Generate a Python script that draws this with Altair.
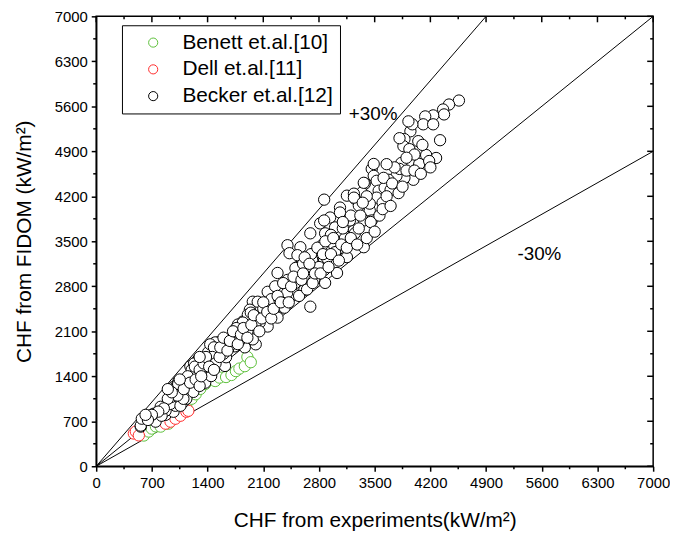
import altair as alt
import pandas as pd

# ---------------- data ----------------
benett_x = [560, 598, 660, 698, 750, 810, 909, 972, 1000, 1071, 1133, 1200, 1250, 1308, 1370, 1495,
            1550, 1632, 1700, 1756, 1800, 1868, 1900, 1943]
benett_y = [520, 478, 540, 586, 620, 617, 663, 740, 800, 848, 925, 1050, 1120, 1203, 1280, 1326,
            1380, 1388, 1420, 1480, 1520, 1557, 1700, 1619]

dell_x = [473, 498, 536, 872, 934, 996, 1059, 1133, 1158, 1320, 1682]
dell_y = [509, 540, 480, 663, 694, 740, 786, 848, 863, 1480, 1974]

becker_x = [4559, 4434, 4360, 4372, 4235, 4135, 4110, 4235, 4322, 4272, 4147, 4048, 3949, 3973, 3874,
            3861, 3936, 3936, 3836, 4060, 3986, 3874, 3774, 3674, 3463, 3488, 3525, 3550, 3625, 3376,
            3338, 3251, 3151, 3301, 3525, 3438, 4185, 3812, 3612, 3438, 3363, 3239, 3151, 3027, 2865,
            2691, 2616, 3488, 3363, 3239, 3064, 2940, 2815, 2691, 2566, 3924, 3812,
            2865, 2404, 3239, 3064, 3189, 3463, 3002, 2865, 2877, 3126, 3251, 3363, 2990, 2840, 2753,
            2902, 3002, 3151, 2715, 2653, 2865, 3027, 2529, 2504, 2715, 2877, 2379, 2566, 2155, 2429,
            2317, 1968, 1931, 2005, 1843, 2155, 2379, 1781, 1881, 1744, 2005, 1532, 1445, 1657, 2242,
            2367, 2441, 2279,
            2529, 2504, 2653, 2404, 2342, 2491, 2616, 2030, 2192, 2367, 1906, 2117, 2279, 1781, 2055,
            2691, 2740,
            1034, 1221, 1283, 1246, 1407, 1495, 1532, 1619, 1632, 1744, 1781, 1843, 1943, 1868, 1968,
            1407, 1158, 972,
            560, 598, 685, 810, 747, 872, 972, 996, 1059, 1009, 1096, 1133, 1221, 1221, 1183, 1258,
            1345, 1370, 1445, 1495, 1433,
            560, 573, 660, 722, 810, 872, 934, 947, 1009, 1034, 1059, 1096, 1121, 822,
            1000, 1020, 1030, 1200, 1230, 1210, 1240, 1480, 1460, 1500, 1760, 1770,
            1600, 1700, 1800, 1900, 2000, 2100, 2200, 2300, 2250, 2400, 2500, 2600, 2700, 2800, 2950,
            3100, 3200, 3300, 3400, 3600, 3700, 3750, 3900, 4000, 4100, 3650,
            1300, 1350, 1380, 1420, 1480, 1550, 1560, 1600, 1650, 1680, 1720, 1780, 1820, 1850, 1900,
            1950, 1980, 2050, 2080, 2100, 2150, 2200, 2230, 2280, 2320, 2350, 2420, 2450, 2480, 2550,
            2580, 2600, 2620, 2650, 2680, 2720, 2750, 2780, 2820, 2850, 2880, 2920, 2950, 2980, 3050,
            3080, 3100, 3150, 3200, 3280, 3320, 3350, 3400, 3450, 3500, 3560, 3600, 3650, 3700, 3720,
            3800, 3850, 3900, 4000, 4080, 4200, 1100, 1150, 1180, 1250, 1300, 900, 950, 850, 780, 700,
            650, 620, 900, 1050, 1300, 1320]
becker_y = [5690, 5628, 5551, 5474, 5459, 5443, 5320, 5320, 5073, 4796, 4842, 5058, 5212, 5320, 5089,
            4981, 4934, 4749, 4719, 4703, 4457, 4487, 4518, 4457, 4626, 4518, 4441, 4287, 4333, 4395,
            4256, 4163, 4210, 4055, 4179, 3978, 4749, 4626, 4487, 4086, 3824, 3670, 3516, 3362, 3207,
            3053, 2899, 4703, 4410, 4241, 4025, 3870, 3778, 3624, 3408, 5366, 5104,
            4148, 3439, 4179, 3948, 3824, 3824, 3716, 3824, 3624, 3547, 3624, 3408, 3439, 3439, 3331,
            3238, 3331, 3254, 3207, 3053, 3053, 3007, 3099, 2945, 2899, 2853, 2853, 2776, 2714, 3315,
            2467, 2560, 2436, 2328, 2251, 2174, 2513, 2020, 2020, 1866, 1897, 1927, 1789, 1820, 2359,
            2776, 2637, 3007,
            3284, 3084, 2945, 2899, 2714, 2668, 2745, 2560, 2513, 2467, 2359, 2359, 2313, 2205, 2236,
            2483, 2899,
            1326, 1588, 1665, 1480, 1773, 1927, 1619, 1560, 1696, 1927, 2081, 2236, 2390, 1850, 1974,
            1434, 1311, 1234,
            617, 709, 771, 786, 694, 800, 848, 941, 1126, 1249, 1000, 1049, 1157, 1465, 1557, 1619,
            1388, 1300, 1403, 1773, 1897,
            632, 740, 786, 817, 925, 863, 971, 1079, 1157, 1249, 941, 1049, 1311, 786,
            1200, 1100, 1280, 1500, 1600, 1400, 1550, 1850, 1700, 1600, 2150, 2050,
            1750, 1900, 1950, 2100, 2200, 2450, 2600, 2600, 2800, 2700, 2850, 3150, 3300, 3100, 3600,
            3700, 3900, 3700, 4200, 4100, 4300, 4650, 4600, 4850, 5000, 4700,
            1500, 1600, 1700, 1550, 1500, 1700, 1850, 2000, 1800, 1950, 2100, 1900, 2050, 2150, 2000,
            2200, 2350, 2100, 2300, 2550, 2400, 2300, 2450, 2650, 2550, 2850, 2550, 2800, 2950, 2650,
            2900, 3000, 3250, 2750, 3150, 2850, 3000, 3400, 3000, 3300, 3500, 3100, 3300, 3550, 3200,
            3450, 3800, 3400, 3550, 3450, 3900, 4100, 3550, 3800, 3650, 3900, 4000, 4200, 4050, 4400,
            4250, 4350, 4800, 4600, 4550, 4650, 1200, 1400, 1300, 1350, 1250, 1050, 1150, 900, 850, 800,
            720, 800, 1200, 1350, 1700, 1400]

series_names = ["Benett et.al.[10]", "Dell et.al.[11]", "Becker et.al.[12]"]
series_colors = ["#5cbf3a", "#ff2a2a", "#000000"]

ref_ratios = [1 / 0.7, 1.0, 0.7]
ref_labels = ["+30%", "-30%"]
ref_label_x = [3480, 5570]
ref_label_y = [5474, 3300]

major_ticks = list(range(0, 7001, 700))
minor_ticks = list(range(350, 7000, 700))
AX_MAX = 7000

# ---------------- tables ----------------
rows = []
for k, (name, xs, ys) in enumerate(zip(series_names, [benett_x, dell_x, becker_x],
                                       [benett_y, dell_y, becker_y])):
    for a, b in zip(xs, ys):
        rows.append({"x": a, "y": b, "series": name, "ord": k})
pts = pd.DataFrame(rows)

line_rows = []
for i, r in enumerate(ref_ratios):
    xe = min(AX_MAX, AX_MAX / r)
    line_rows.append({"x": 0, "y": 0, "id": i})
    line_rows.append({"x": xe, "y": xe * r, "id": i})
lines = pd.DataFrame(line_rows)

txt = pd.DataFrame({"x": ref_label_x, "y": ref_label_y, "t": ref_labels})
maj = pd.DataFrame({"x": major_ticks, "y": major_ticks})
mnr = pd.DataFrame({"x": minor_ticks, "y": minor_ticks})

W, H = 562, 454
FONT = "Liberation Sans"

sx = alt.Scale(domain=[0, AX_MAX], nice=False, zero=False)
sy = alt.Scale(domain=[0, AX_MAX], nice=False, zero=False)
ax_x = alt.Axis(values=major_ticks, format="d", title="CHF from experiments(kW/m²)",
                labelFlush=False, grid=False, tickSize=5, labelPadding=4, titlePadding=20)
ax_y = alt.Axis(values=major_ticks, format="d", title="CHF from FIDOM (kW/m²)", grid=False,
                tickSize=5, labelPadding=4, titlePadding=20)

X = lambda: alt.X("x:Q", scale=sx, axis=ax_x)
Y = lambda: alt.Y("y:Q", scale=sy, axis=ax_y)

ref = alt.Chart(lines).mark_line(color="black", strokeWidth=1, clip=True).encode(
    x=X(), y=Y(), detail="id:N")

points = alt.Chart(pts).mark_point(shape="circle", size=130, fill="white", fillOpacity=1,
                                   strokeWidth=1, opacity=1).encode(
    x=X(), y=Y(),
    stroke=alt.Stroke("series:N", scale=alt.Scale(domain=series_names, range=series_colors),
                      sort=series_names,
                      legend=alt.Legend(title=None, orient="none", legendX=26, legendY=9,
                                        fillColor="white", strokeColor="black", padding=7,
                                        labelFontSize=21, labelFont=FONT, labelColor="black",
                                        rowPadding=5, symbolType="circle", symbolSize=85,
                                        symbolFillColor="white", symbolStrokeWidth=1,
                                        labelOffset=19, symbolOffset=14, labelLimit=400)),
    order=alt.Order("ord:Q"))

labels = alt.Chart(txt).mark_text(fontSize=19, font=FONT, color="black").encode(
    x=X(), y=Y(), text="t:N")

top_major = alt.Chart(maj).mark_rule(color="black", strokeWidth=1.5).encode(
    x=X(), y=alt.value(0), y2=alt.value(6))
top_minor = alt.Chart(mnr).mark_rule(color="black", strokeWidth=1.5).encode(
    x=X(), y=alt.value(0), y2=alt.value(3))
right_major = alt.Chart(maj).mark_rule(color="black", strokeWidth=1.5).encode(
    y=Y(), x=alt.value(W), x2=alt.value(W - 6))
right_minor = alt.Chart(mnr).mark_rule(color="black", strokeWidth=1.5).encode(
    y=Y(), x=alt.value(W), x2=alt.value(W - 3))
bot_minor = alt.Chart(mnr).mark_rule(color="black", strokeWidth=1.5).encode(
    x=X(), y=alt.value(H), y2=alt.value(H + 3))
left_minor = alt.Chart(mnr).mark_rule(color="black", strokeWidth=1.5).encode(
    y=Y(), x=alt.value(0), x2=alt.value(-3))

chart = alt.layer(
    ref, points, labels, top_major, top_minor, right_major, right_minor, bot_minor, left_minor
).properties(
    width=W, height=H,
    autosize=alt.AutoSizeParams(type="none"),
    padding={"left": 89, "top": 6, "right": 17, "bottom": 72}
).configure_view(
    stroke="black", strokeWidth=1.5
).configure_axis(
    domainColor="black", domainWidth=1.5, tickColor="black", tickWidth=1.5,
    labelColor="black", titleColor="black", labelFont=FONT, titleFont=FONT,
    labelFontSize=15, titleFontSize=21, titleFontWeight="normal"
)

chart.save("out.html", embed_options={"renderer": "svg", "actions": False})
